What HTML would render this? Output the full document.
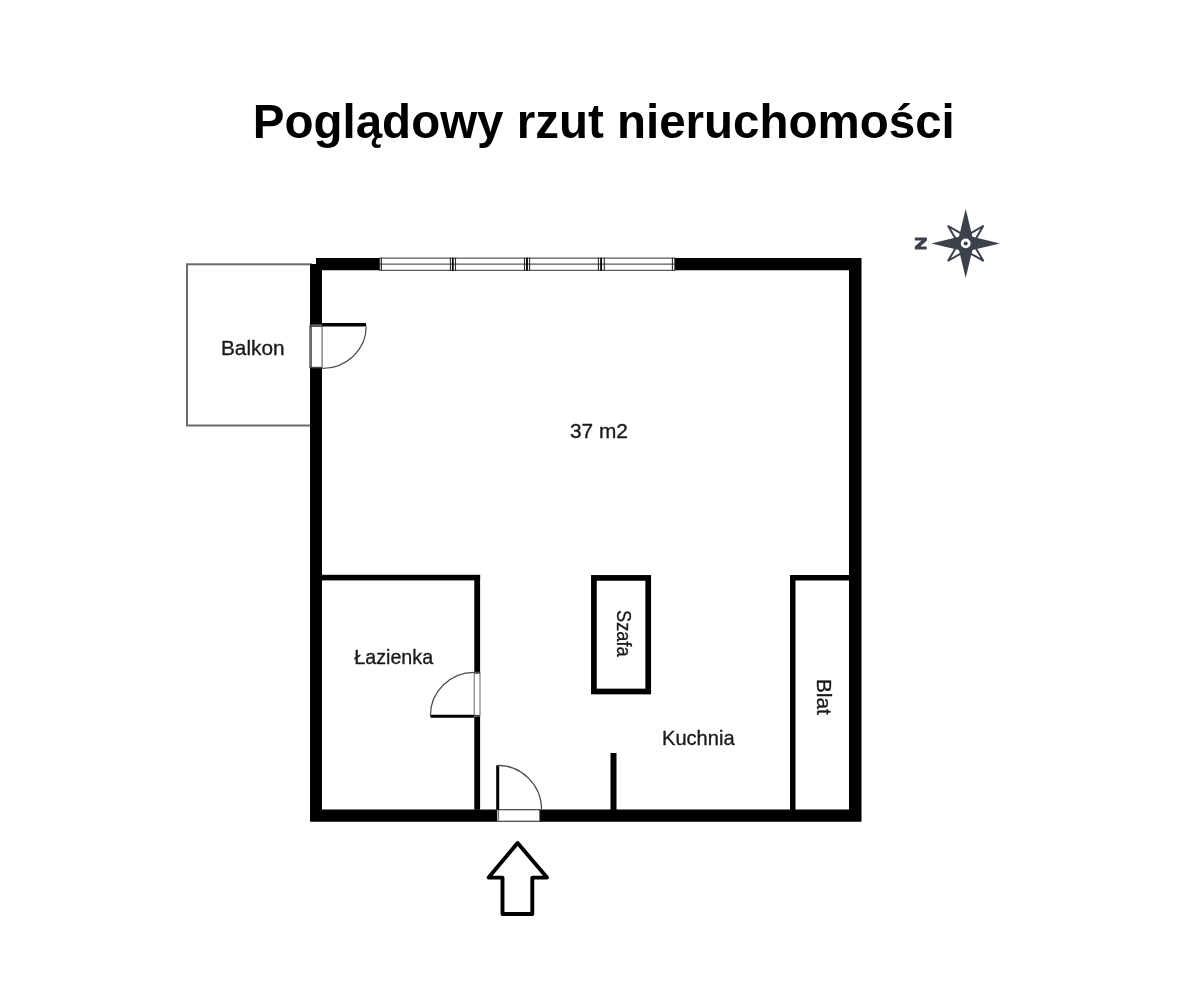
<!DOCTYPE html>
<html>
<head>
<meta charset="utf-8">
<style>
html,body{margin:0;padding:0;background:#fff;}
body{width:1200px;height:983px;overflow:hidden;position:relative;}
svg{position:absolute;left:0;top:0;will-change:transform;}
text{font-family:"Liberation Sans", sans-serif;}
</style>
</head>
<body>
<svg width="1200" height="983" viewBox="0 0 1200 983">
  <!-- title -->
  <text id="title" x="252.8" y="138.4" font-size="48" font-weight="bold" fill="#000" textLength="702" lengthAdjust="spacingAndGlyphs">Poglądowy rzut nieruchomości</text>

  <!-- balcony -->
  <rect x="187" y="264.3" width="124" height="161.2" fill="none" stroke="#6b6b6b" stroke-width="2"/>

  <!-- outer walls -->
  <path fill="#000" fill-rule="evenodd" d="M316,258 H379 V270.3 H322 V324.8 H310 V264 H316 Z
     M675,258 H861.5 V821.7 H540 V809.5 H849 V270.3 H675 Z
     M310,368 H322 V809.5 H497 V821.7 H310 Z"/>

  <!-- windows -->
  <g stroke="#5a5a5a" stroke-width="1.3" fill="none">
    <line x1="380" y1="258.2" x2="675" y2="258.2"/>
    <line x1="380" y1="264.2" x2="675" y2="264.2"/>
    <line x1="380" y1="270.3" x2="675" y2="270.3"/>
  </g>
  <g stroke="#2a2a2a" stroke-width="1.1" fill="none">
    <line x1="379.6" y1="257.8" x2="379.6" y2="270.8"/>
    <line x1="381.4" y1="257.8" x2="381.4" y2="270.8"/>
    <line x1="450.4" y1="257.8" x2="450.4" y2="270.8"/>
    <line x1="455.5" y1="257.8" x2="455.5" y2="270.8"/>
    <line x1="524.5" y1="257.8" x2="524.5" y2="270.8"/>
    <line x1="529.6" y1="257.8" x2="529.6" y2="270.8"/>
    <line x1="598.4" y1="257.8" x2="598.4" y2="270.8"/>
    <line x1="604.3" y1="257.8" x2="604.3" y2="270.8"/>
    <line x1="672.4" y1="257.8" x2="672.4" y2="270.8"/>
    <line x1="674.8" y1="257.8" x2="674.8" y2="270.8"/>
  </g>
  <g stroke="#000" stroke-width="1.8" fill="none">
    <line x1="452.8" y1="257.8" x2="452.8" y2="270.8"/>
    <line x1="527" y1="257.8" x2="527" y2="270.8"/>
    <line x1="601.1" y1="257.8" x2="601.1" y2="270.8"/>
  </g>

  <!-- interior walls -->
  <rect x="322" y="574.8" width="158.1" height="5.6" fill="#000"/>
  <rect x="474.3" y="575" width="5.8" height="96.9" fill="#000"/>
  <rect x="474.3" y="716.8" width="5.8" height="93" fill="#000"/>
  <rect x="610.5" y="753" width="6" height="57" fill="#000"/>
  <!-- szafa -->
  <rect x="593.9" y="577.9" width="54.3" height="113.6" fill="none" stroke="#000" stroke-width="5.7"/>
  <!-- blat -->
  <rect x="790" y="575" width="5.5" height="235" fill="#000"/>
  <rect x="790" y="575" width="60" height="5.5" fill="#000"/>

  <!-- balcony door -->
  <rect x="309.8" y="325.6" width="12.3" height="42" fill="none" stroke="#6a6a6a" stroke-width="1.2"/>
  <line x1="310" y1="326.4" x2="322" y2="326.4" stroke="#333" stroke-width="0.9"/>
  <line x1="310" y1="367.3" x2="322" y2="367.3" stroke="#333" stroke-width="0.9"/>
  <rect x="322" y="323.1" width="44.2" height="3.4" rx="0.8" fill="#000"/>
  <path d="M366.2,326.5 A44.2,42 0 0 1 322,368.5" fill="none" stroke="#4a4a4a" stroke-width="1.2"/>

  <!-- bathroom door -->
  <rect x="474.2" y="672.6" width="5.8" height="43.4" fill="none" stroke="#777" stroke-width="1.1"/>
  <line x1="474.2" y1="673" x2="480" y2="673" stroke="#333" stroke-width="1.3"/>
  <line x1="474.2" y1="715.8" x2="480" y2="715.8" stroke="#333" stroke-width="1.6"/>
  <rect x="430.4" y="714.8" width="43.6" height="2.9" rx="0.6" fill="#000"/>
  <path d="M430.4,715.5 A44,43.2 0 0 1 474.3,672.3" fill="none" stroke="#4a4a4a" stroke-width="1.2"/>

  <!-- entrance door -->
  <line x1="497" y1="809.8" x2="540.5" y2="809.8" stroke="#1a1a1a" stroke-width="1.1"/>
  <line x1="497" y1="821.2" x2="540.5" y2="821.2" stroke="#1a1a1a" stroke-width="1.1"/>
  <line x1="498.3" y1="810" x2="498.3" y2="821" stroke="#777" stroke-width="1.6"/>
  <line x1="539.8" y1="810" x2="539.8" y2="821" stroke="#333" stroke-width="1"/>
  <rect x="496.2" y="765.3" width="3" height="44.3" fill="#000"/>
  <path d="M497.5,765.4 A44.1,44.1 0 0 1 541.6,809.5" fill="none" stroke="#4a4a4a" stroke-width="1.2"/>

  <!-- entrance arrow -->
  <path d="M517.6,843 L488.6,877.6 L502.5,877.6 L502.5,914 L532.3,914 L532.3,877.6 L547,877.6 Z" fill="none" stroke="#000" stroke-width="3.9" stroke-linejoin="round"/>

  <!-- labels -->
  <g fill="#1a1a1a" stroke="#1a1a1a" stroke-width="0.35" font-size="20.8">
    <text x="221" y="354.7">Balkon</text>
    <text x="570" y="437.7">37 m2</text>
    <text x="354.3" y="663.7" textLength="78.8" lengthAdjust="spacingAndGlyphs">Łazienka</text>
    <text x="662" y="744.6" textLength="72.6" lengthAdjust="spacingAndGlyphs">Kuchnia</text>
    <text transform="translate(616.9,610) rotate(90)" textLength="46.6" lengthAdjust="spacingAndGlyphs">Szafa</text>
    <text transform="translate(817.4,679) rotate(90)">Blat</text>
  </g>

  <!-- compass -->
  <g transform="translate(965.7,243.4)">
    <g fill="none" stroke="#3c424b" stroke-width="2" stroke-linejoin="round">
      <path d="M-17.4,-17.2 L-3,-9.1 L-9.1,-3 Z"/>
      <path d="M17.4,-17.2 L3,-9.1 L9.1,-3 Z"/>
      <path d="M-17.4,17.2 L-3,9.1 L-9.1,3 Z"/>
      <path d="M17.4,17.2 L3,9.1 L9.1,3 Z"/>
    </g>
    <path fill="#3c424b" d="M0,-34.7 L6.7,-6.7 L34.3,0 L6.7,6.7 L0,34.5 L-6.7,6.7 L-34.5,0 L-6.7,-6.7 Z"/>
    <circle r="4.9" fill="#fff"/>
    <circle r="2" fill="#3c424b"/>
  </g>
  <path d="M914.8,237.4 H926.9 V240.6 L920.3,246.6 H926.7 V249.6 H914.8 V246.6 L921.4,240.6 H914.8 Z" fill="#3c424b"/>
</svg>
</body>
</html>
